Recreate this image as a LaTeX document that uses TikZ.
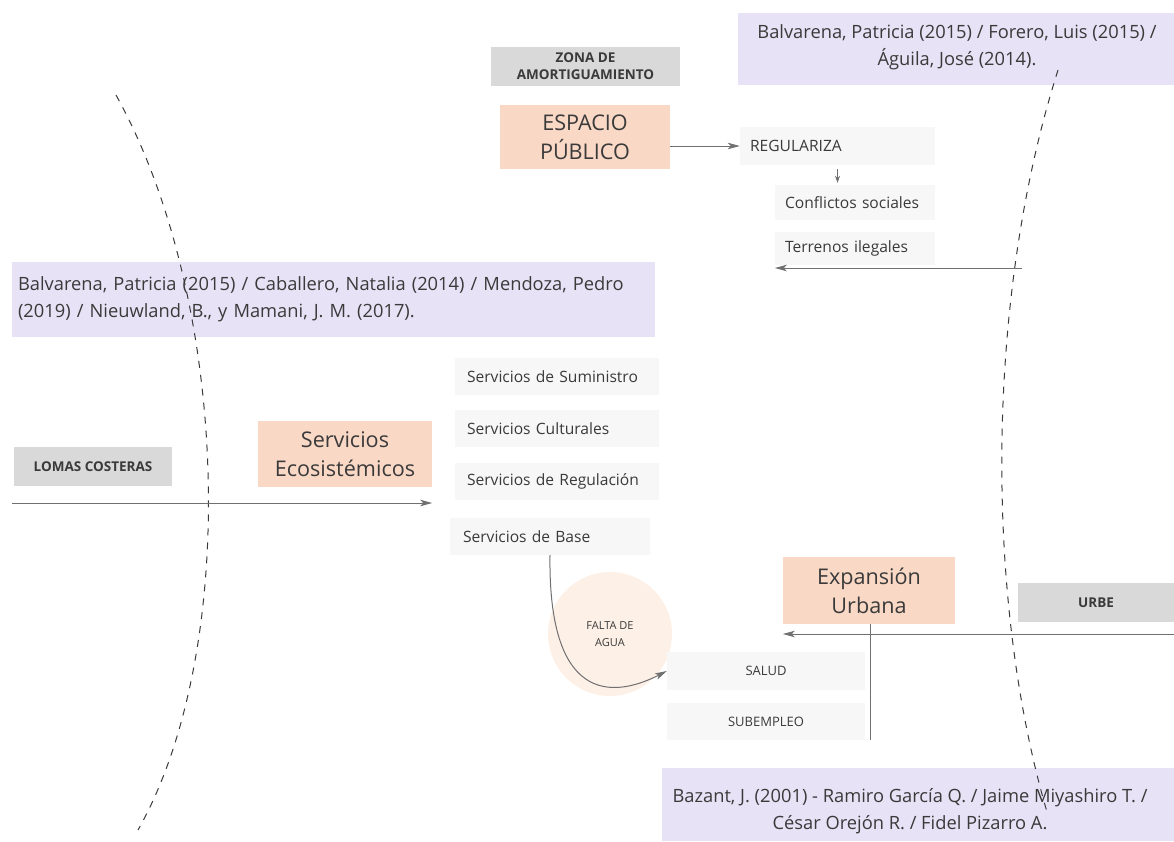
\documentclass[tikz,border=0pt]{standalone}
\usepackage{fontspec}
\setmainfont{Open Sans}
\usetikzlibrary{arrows.meta}
\definecolor{ink}{HTML}{3A3A3A}
\definecolor{lilac}{HTML}{E7E2F6}
\definecolor{peach}{HTML}{F9D8C6}
\definecolor{greybox}{HTML}{D9D9D9}
\definecolor{faint}{HTML}{F7F7F7}
\definecolor{blush}{HTML}{FDF0E7}
\definecolor{wire}{HTML}{707070}
% soft-edged pale disc
\pgfdeclareradialshading{softdisc}{\pgfpoint{0bp}{0bp}}{%
  color(0bp)=(blush); color(32bp)=(blush); color(50bp)=(white); color(60bp)=(white)}
\begin{document}
\begin{tikzpicture}[x=1pt,y=-1pt,
  box/.style={rectangle,inner sep=0pt,text=ink,align=center},
  citetext/.style={box,font=\fontsize{18.3}{27}\selectfont},
  topic/.style={box,fill=peach,font=\fontsize{21.6}{29}\selectfont},
  zone/.style={box,fill=greybox,font=\fontsize{13.5}{17}\selectfont\bfseries},
  item/.style={box,fill=faint,font=\fontsize{15.6}{18}\selectfont,align=left,inner xsep=12pt},
  capsitem/.style={box,fill=faint,font=\fontsize{13}{16}\selectfont},
  arr/.style={draw=wire,line width=1pt,-{Stealth[length=12pt,width=6.5pt,inset=3pt]}},
  smallarr/.style={draw=wire,line width=1pt,-{Stealth[length=7pt,width=5pt]}},
  plain/.style={draw=wire,line width=1pt},
  border/.style={draw=ink,line width=1pt,dash pattern=on 7pt off 7pt}]
\useasboundingbox (0,0) rectangle (1174,841);

% reference panels (fills first, the boundaries run over them)
\fill[lilac] (738,13) rectangle (1174,85);
\fill[lilac] (12,262) rectangle (655,337);
\fill[lilac] (662,768) rectangle (1174,841);
\node[citetext] (citeA) at (957,47)
  {Balvarena, Patricia (2015) / Forero, Luis (2015) /\\Águila, José (2014).};
\node[citetext,text width=637pt,align=left] (citeB) at (336.5,299.5)
  {Balvarena, Patricia (2015) / Caballero, Natalia (2014) / Mendoza, Pedro\\(2019) / Nieuwland, B., y Mamani, J. M. (2017).};
\node[citetext] (citeC) at (910,811)
  {Bazant, J. (2001) - Ramiro García Q. / Jaime Miyashiro T. /\\César Orejón R. / Fidel Pizarro A.};

% zones
\node[zone,minimum width=189pt,minimum height=39pt] (zona) at (585.5,66.5) {ZONA DE\\AMORTIGUAMIENTO};
\node[zone,minimum width=158pt,minimum height=39pt] (lomas) at (93,466.5) {LOMAS COSTERAS};
\node[zone,minimum width=156pt,minimum height=39pt] (urbe) at (1096,602.5) {URBE};

% main topics
\node[topic,minimum width=170pt,minimum height=64pt] (espacio) at (585,137) {ESPACIO\\PÚBLICO};
\node[topic,minimum width=174pt,minimum height=66pt] (ecos) at (345,454) {Servicios\\Ecosistémicos};
\node[topic,minimum width=172pt,minimum height=67pt] (expa) at (869,590.5) {Expansión\\Urbana};

% public space branch
\node[item,minimum height=38pt,text width=175pt,inner xsep=10pt] (reg) at (837.5,146) {REGULARIZA};
\node[item,minimum height=35pt,text width=140pt,inner xsep=10pt] (conf) at (855,202.5) {Conflictos sociales};
\node[item,minimum height=33pt,text width=140pt,inner xsep=10pt] (terr) at (855,248.5) {Terrenos ilegales};

% ecosystem services
\node[item,minimum height=37pt,text width=180pt] (sumi) at (557,376.5) {Servicios de Suministro};
\node[item,minimum height=37pt,text width=180pt] (cult) at (557,428.5) {Servicios Culturales};
\node[item,minimum height=37pt,text width=180pt] (regu) at (557,481.5) {Servicios de Regulación};
\node[item,minimum height=37pt,text width=174pt,inner xsep=13pt] (base) at (550,536.5) {Servicios de Base};

% urban effects
\node[circle,shading=softdisc,minimum size=124pt,inner sep=0pt,text=ink,align=center,
  font=\fontsize{11}{17}\selectfont] (agua) at (610,634) {FALTA DE\\AGUA};
\node[capsitem,minimum width=198pt,minimum height=38pt] (salud) at (766,671) {SALUD};
\node[capsitem,minimum width=198pt,minimum height=37pt] (subem) at (766,721.5) {SUBEMPLEO};

% boundaries
\draw[border] (116,95) .. controls (230,300) and (240,650) .. (138,830);
\draw[border] (1058,70) .. controls (985,300) and (985,600) .. (1047,812);

% connectors
\draw[arr] (reg.west -| espacio.east) -- (reg.west);
\draw[smallarr,shorten <=4pt,shorten >=2pt] (reg.south) -- (reg.south |- conf.north);
\coordinate (tin) at (1022,268);
\draw[arr] (tin) -- (tin -| terr.west);
\coordinate (lin) at (12,503);
\draw[arr] (lin) -- (lin -| ecos.east);
\coordinate (uin) at (1174,634);
\draw[arr] (uin) -- (uin -| expa.west);
\coordinate (vend) at (870,740);
\draw[plain] (expa.south -| vend) -- (vend);
\draw[arr] (base.south) .. controls (548,700) and (610,700) .. (salud.west);
\end{tikzpicture}
\end{document}
